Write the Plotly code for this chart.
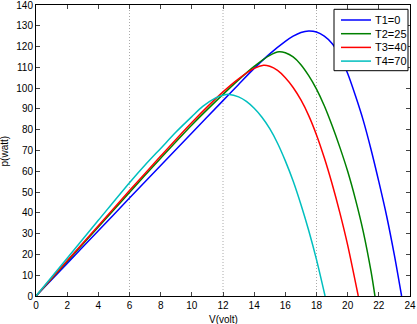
import plotly.graph_objects as go

# T1 = 0
v_t1 = [0, 2, 4, 6, 8, 10, 12, 13, 14, 15, 16, 16.5, 17, 17.5, 18, 18.5, 19, 19.5, 20, 20.5, 21, 21.5, 22, 22.5, 23, 23.46]
p_t1 = [0, 15.7, 31.4, 47.1, 62.8, 78.4, 94, 101.8, 109.5, 116.5, 122.5, 125, 126.8, 127.5, 127, 125, 121.5, 115.5, 107, 96.3, 84.5, 70.5, 55, 38.5, 19.5, 0]
# T2 = 25
v_t2 = [0, 2, 4, 6, 8, 10, 12, 13, 14, 15, 15.6, 16, 16.5, 17, 17.5, 18, 18.5, 19, 19.5, 20, 20.5, 21, 21.5, 21.75]
p_t2 = [0, 16.6, 33.2, 49.8, 66.3, 82.3, 97, 104, 110.5, 115.8, 117.5, 117, 115, 111.3, 106, 99.5, 91.5, 82, 71.5, 60, 46.5, 31, 11.8, 0]
# T3 = 40
v_t3 = [0, 2, 4, 6, 8, 10, 12, 13, 14, 14.6, 15, 15.5, 16, 16.5, 17, 17.5, 18, 18.5, 19, 19.5, 20, 20.68]
p_t3 = [0, 16.9, 33.8, 50.7, 67.3, 83.5, 98.2, 104.5, 109.5, 111, 110.5, 108.5, 105, 100.3, 94.3, 86.8, 77.5, 66.5, 54, 40, 24.5, 0]
# T4 = 70
v_t4 = [0, 2, 4, 6, 7, 8, 9, 10, 10.7, 11.5, 12, 12.4, 13, 13.5, 14, 14.5, 15, 15.5, 16, 16.5, 17, 17.5, 18, 18.55]
p_t4 = [0, 18.2, 36.4, 54.5, 63, 71, 79, 86.3, 91.2, 95.2, 96.6, 97, 95.8, 93.6, 90.3, 86, 80.5, 73.5, 65, 55.3, 44, 31.5, 17.5, 0]

series_names = ["T1=0", "T2=25", "T3=40", "T4=70"]
series_colors = ["#0000ff", "#008000", "#ff0000", "#00bfbf"]
grid_v = [6, 12, 18]

x_ticks = list(range(0, 25, 2))
y_ticks = list(range(0, 141, 10))

W, H = 417, 324
ML, MR, MT, MB = 36, 7, 5, 28
PW, PH = W - ML - MR, H - MT - MB


def px(x):
    return (x - ML) / PW


def py(y):
    return 1 - (y - MT) / PH


fig = go.Figure()
for v, p, name, col in zip([v_t1, v_t2, v_t3, v_t4], [p_t1, p_t2, p_t3, p_t4], series_names, series_colors):
    fig.add_trace(go.Scatter(x=v, y=p, mode="lines", name=name, showlegend=False,
                             line=dict(color=col, width=1.5, shape="spline", smoothing=0.8)))

for g in grid_v:
    fig.add_shape(type="line", xref="x", yref="paper", x0=g, x1=g, y0=0, y1=1,
                  line=dict(color="#aaaaaa", width=1, dash="1px,2px"), layer="below")

font = "Liberation Sans, Arial, sans-serif"
annotations = [
    dict(text="V(volt)", xref="paper", yref="paper", x=0.5, y=-0.08,
         xanchor="center", yanchor="middle", showarrow=False, font=dict(size=10)),
    dict(text="p(watt)", xref="paper", yref="paper", x=-0.083, y=0.5,
         xanchor="center", yanchor="middle", showarrow=False, textangle=-90,
         font=dict(size=10)),
]

# legend box (drawn manually to match the compact MATLAB legend)
fig.add_shape(type="rect", xref="paper", yref="paper",
              x0=px(334), x1=px(408), y0=py(70.7), y1=py(9.3),
              line=dict(color="black", width=1), fillcolor="white", layer="above")
for i, (name, col) in enumerate(zip(series_names, series_colors)):
    yy = py(20 + 13.7 * i)
    fig.add_shape(type="line", xref="paper", yref="paper",
                  x0=px(341), x1=px(371), y0=yy, y1=yy,
                  line=dict(color=col, width=1.5), layer="above")
    annotations.append(dict(text=name, xref="paper", yref="paper", x=px(373), y=yy,
                            xanchor="left", yanchor="middle", showarrow=False,
                            font=dict(size=11)))

fig.update_layout(
    width=W, height=H,
    margin=dict(l=ML, r=MR, t=MT, b=MB),
    paper_bgcolor="white", plot_bgcolor="white",
    font=dict(family=font, size=10, color="black"),
    showlegend=False,
    xaxis=dict(range=[0, 24], tickvals=x_ticks, ticks="inside", ticklen=4,
               showline=True, linecolor="black", linewidth=1, mirror="ticks",
               showgrid=False, zeroline=False, automargin=False,
               ticklabeloverflow="allow"),
    yaxis=dict(range=[0, 140], tickvals=y_ticks, ticks="inside", ticklen=4,
               showline=True, linecolor="black", linewidth=1, mirror="ticks",
               showgrid=False, zeroline=False, automargin=False,
               ticklabeloverflow="allow"),
    annotations=annotations,
)

fig.write_html("out.html", config={"displayModeBar": False},
               post_script="document.body.style.margin='0';document.body.style.overflow='hidden';")
